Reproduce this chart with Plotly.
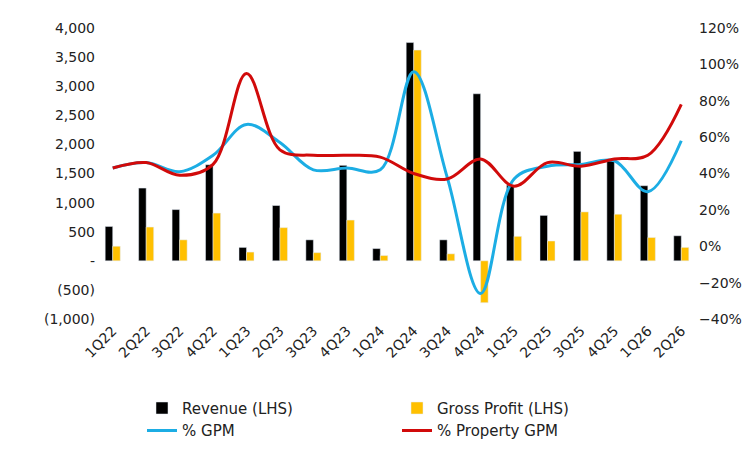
import plotly.graph_objects as go

quarters = ["1Q22","2Q22","3Q22","4Q22","1Q23","2Q23","3Q23","4Q23","1Q24","2Q24","3Q24","4Q24","1Q25","2Q25","3Q25","4Q25","1Q26","2Q26"]
revenue = [590,1250,880,1650,230,950,360,1640,210,3750,360,2870,1300,780,1880,1720,1290,430]
gross_profit = [250,580,360,820,150,570,140,700,90,3620,120,-720,420,340,840,800,400,230]
gpm = [43,46,41,50,67,57,42,43,42,96,38,-26,37,44,45,47,30,58]
prop_gpm = [43,46,39,45,95,53,50,50,49,40,37,48,33,46,44,48,50,78]

fig = go.Figure()
fig.add_bar(x=quarters, y=revenue, name="Revenue (LHS)", marker_color="black", offsetgroup=0)
fig.add_bar(x=quarters, y=gross_profit, name="Gross Profit (LHS)", marker_color="#FFC000", offsetgroup=1)
fig.add_scatter(x=quarters, y=[v/100 for v in gpm], name="% GPM", yaxis="y2", mode="lines",
                line=dict(color="#1CADE4", width=3, shape="spline", smoothing=1.0))
fig.add_scatter(x=quarters, y=[v/100 for v in prop_gpm], name="% Property GPM", yaxis="y2", mode="lines",
                line=dict(color="#D10A0A", width=3, shape="spline", smoothing=1.0))

fnt = dict(family="DejaVu Sans", size=14, color="#222")
fig.update_layout(
    width=756, height=457, margin=dict(l=88, r=66, t=20, b=146),
    plot_bgcolor="white", paper_bgcolor="white", font=fnt,
    bargap=0.55, bargroupgap=0.0,
    xaxis=dict(tickangle=-45, showgrid=False, showline=False, ticks=""),
    yaxis=dict(range=[-1000, 4000], showgrid=False, zeroline=False,
               tickvals=[-1000,-500,0,500,1000,1500,2000,2500,3000,3500,4000],
               ticktext=["(1,000)","(500)","-","500","1,000","1,500","2,000","2,500","3,000","3,500","4,000"]),
    yaxis2=dict(overlaying="y", side="right", range=[-0.4, 1.2], dtick=0.2, tickformat=".0%",
                showgrid=False, zeroline=False),
    legend=dict(orientation="h", x=0.5, xanchor="center", y=-0.25, yanchor="top",
                entrywidth=210, font=dict(family="DejaVu Sans", size=15, color="#222"),
                traceorder="normal", tracegroupgap=10),
)
fig.write_html("out.html")
